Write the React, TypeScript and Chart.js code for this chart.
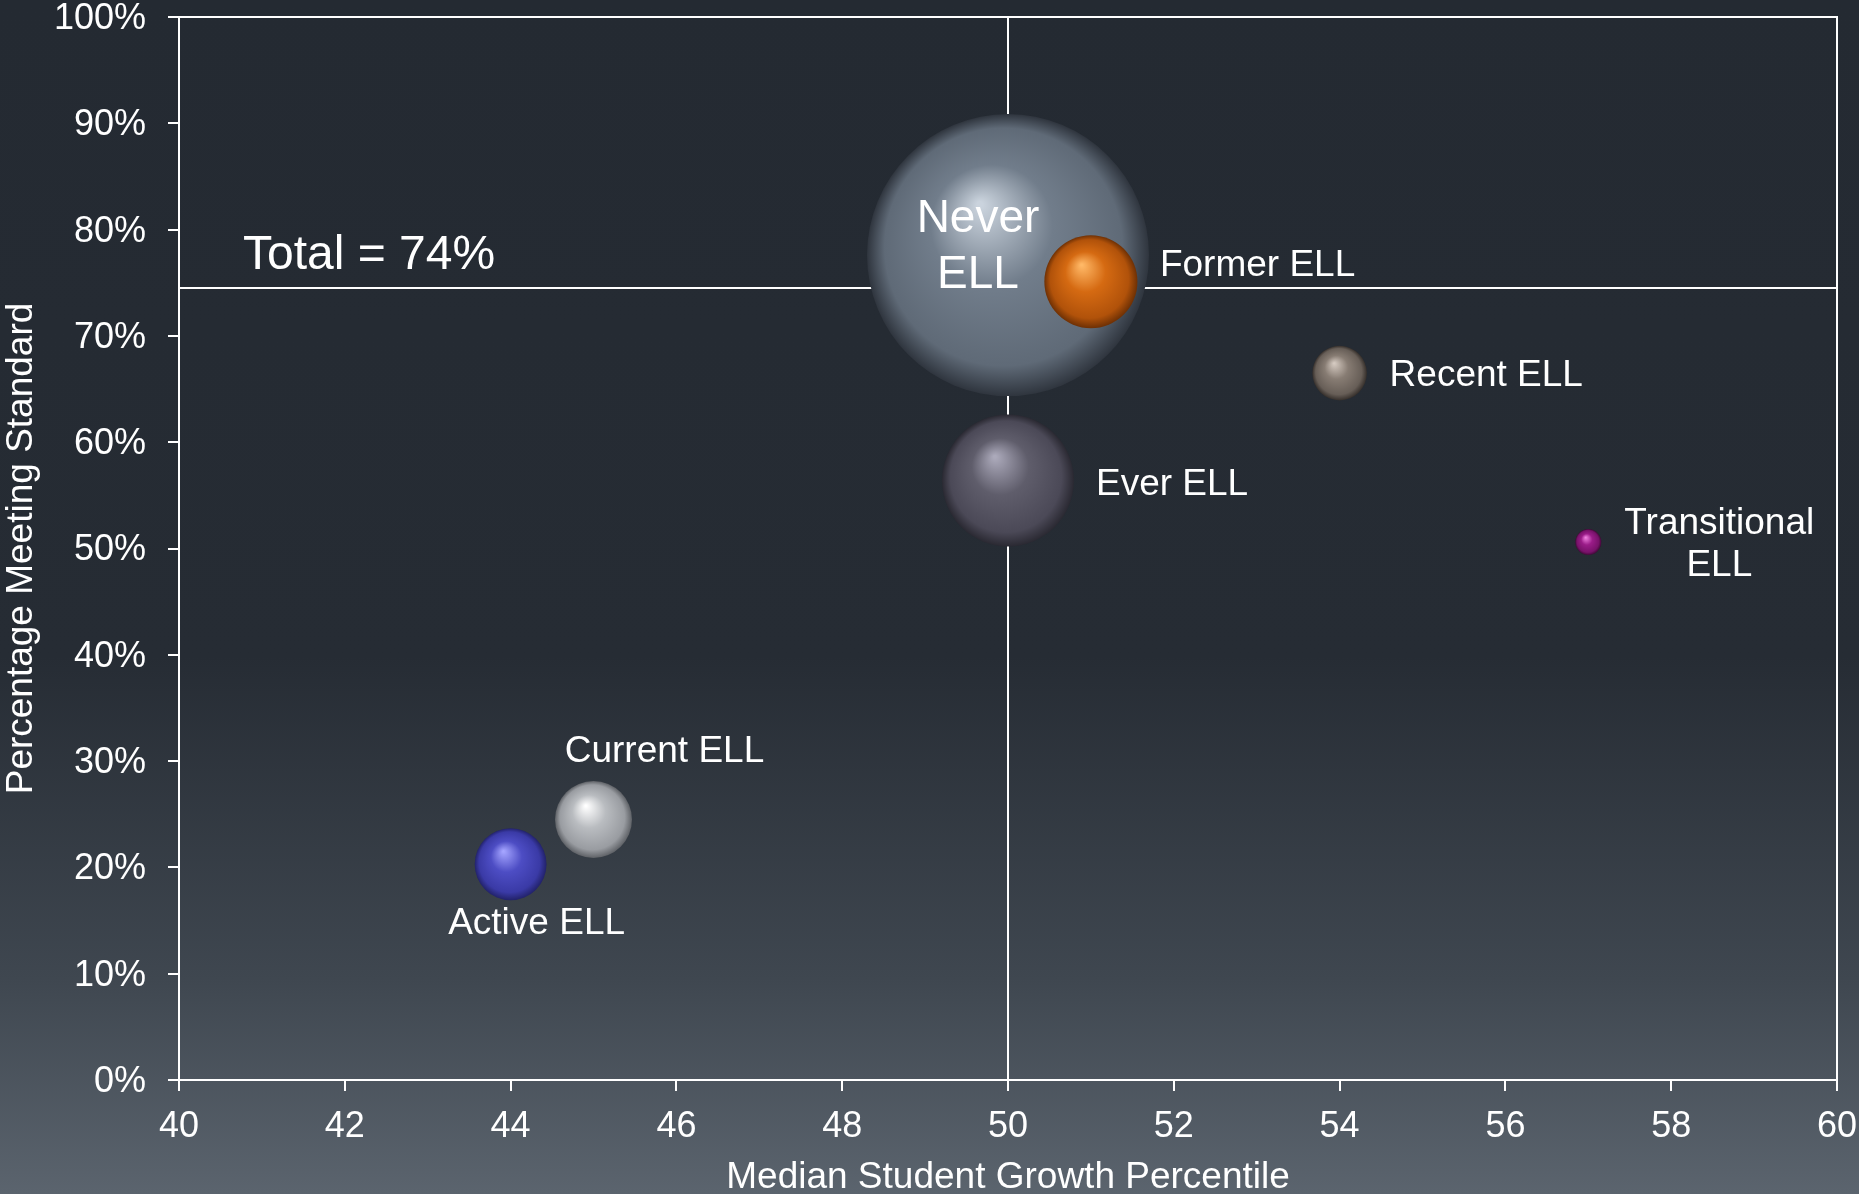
import React, { useEffect, useRef } from "react";
import { Chart, registerables } from "chart.js";

Chart.register(...registerables);

// ---- data ----
const groups = [
  "Never ELL",
  "Former ELL",
  "Ever ELL",
  "Recent ELL",
  "Transitional ELL",
  "Current ELL",
  "Active ELL",
];
const growthPercentile = [50, 51, 50, 54, 57, 45, 44];
const pctMeetingStandard = [77.6, 75.1, 56.4, 66.5, 50.6, 24.5, 20.3];
const bubbleSize = [100, 10.9, 21.9, 3.75, 0.85, 7.45, 6.5];
const totalPct = 74.5;
const totalLabel = "Total = 74%";
const medianGrowth = 50;
const xTickStep = 2;
const yTickStep = 10;
const xAxisTitle = "Median Student Growth Percentile";
const yAxisTitle = "Percentage Meeting Standard";

// ---- styles ----
const FONT = '"Liberation Sans", Arial, Helvetica, sans-serif';
const MAX_R = 141;
const WHITE = "#ffffff";

const sphereColors = [
  { hi: "#cad3dd", base: "#717d8b", mid: "#5f6a77", dark: "#2f353e" },
  { hi: "#ffb866", base: "#d56a12", mid: "#b1520a", dark: "#6e3004" },
  { hi: "#aba9ba", base: "#5f5d6b", mid: "#4b4957", dark: "#2a2932" },
  { hi: "#d4c9c0", base: "#877c73", mid: "#675e57", dark: "#352f2b" },
  { hi: "#f080e0", base: "#9a1c88", mid: "#78126a", dark: "#420838" },
  { hi: "#ffffff", base: "#b9bcc0", mid: "#999ca1", dark: "#5e6166" },
  { hi: "#a4a4ff", base: "#4d4dc4", mid: "#3a3aa6", dark: "#22226a" },
];

// label placement relative to bubble centre (px)
const labelLayout = [
  { dx: -30, dy: -8, align: "center", size: 46, wrap: true, lh: 56 },
  { dx: 69, dy: -16, align: "left", size: 37, wrap: false, lh: 0 },
  { dx: 88, dy: 4, align: "left", size: 37, wrap: false, lh: 0 },
  { dx: 50, dy: 3, align: "left", size: 37, wrap: false, lh: 0 },
  { dx: 131, dy: 3, align: "center", size: 37, wrap: true, lh: 42 },
  { dx: 71, dy: -68, align: "center", size: 37, wrap: false, lh: 0 },
  { dx: 26, dy: 60, align: "center", size: 37, wrap: false, lh: 0 },
];

export default function App() {
  const ref = useRef<HTMLCanvasElement>(null);

  useEffect(() => {
    const canvas = ref.current;
    if (!canvas) return;
    const maxSize = Math.max(...bubbleSize);
    const bubbleData = groups.map((g, i) => ({
      x: growthPercentile[i],
      y: pctMeetingStandard[i],
      r: MAX_R * Math.sqrt(bubbleSize[i] / maxSize),
    }));

    const sphereFill = (ctx: any) => {
      const i = ctx.dataIndex;
      if (ctx.type !== "data" || i === undefined) return "#888";
      const c = sphereColors[i];
      const chart = ctx.chart;
      const xs = chart.scales.x;
      const ys = chart.scales.y;
      const p = ctx.raw;
      if (!xs || !ys || !chart.chartArea) return c.base;
      const cx = xs.getPixelForValue(p.x);
      const cy = ys.getPixelForValue(p.y);
      const r = p.r;
      const g = chart.ctx.createRadialGradient(
        cx - r * 0.2,
        cy - r * 0.36,
        r * 0.02,
        cx,
        cy,
        r
      );
      g.addColorStop(0, c.hi);
      g.addColorStop(0.42, c.base);
      g.addColorStop(0.84, c.mid);
      g.addColorStop(1, c.dark);
      return g;
    };

    const framePlugin = {
      id: "frame",
      beforeDatasetsDraw(chart: any) {
        const { ctx, chartArea } = chart;
        ctx.save();
        ctx.strokeStyle = WHITE;
        ctx.lineWidth = 2;
        ctx.strokeRect(
          chartArea.left,
          chartArea.top,
          chartArea.right - chartArea.left,
          chartArea.bottom - chartArea.top
        );
        ctx.restore();
      },
    };

    const labelPlugin = {
      id: "bubbleLabels",
      afterDatasetsDraw(chart: any) {
        const { ctx } = chart;
        const xs = chart.scales.x;
        const ys = chart.scales.y;
        ctx.save();
        ctx.fillStyle = WHITE;
        ctx.textBaseline = "middle";
        groups.forEach((name, i) => {
          const L = labelLayout[i];
          const cx = xs.getPixelForValue(growthPercentile[i]) + L.dx;
          const cy = ys.getPixelForValue(pctMeetingStandard[i]) + L.dy;
          ctx.font = `${L.size}px ${FONT}`;
          ctx.textAlign = L.align;
          if (L.wrap) {
            const idx = name.lastIndexOf(" ");
            const lines = [name.slice(0, idx), name.slice(idx + 1)];
            ctx.fillText(lines[0], cx, cy - L.lh / 2);
            ctx.fillText(lines[1], cx, cy + L.lh / 2);
          } else {
            ctx.fillText(name, cx, cy);
          }
        });
        // total label
        ctx.font = `48px ${FONT}`;
        ctx.textAlign = "left";
        ctx.fillText(
          totalLabel,
          xs.getPixelForValue(xs.min) + 64,
          ys.getPixelForValue(totalPct) - 32
        );
        ctx.restore();
      },
    };

    const chart = new Chart(canvas, {
      type: "bubble",
      data: {
        datasets: [
          {
            type: "bubble",
            label: "groups",
            data: bubbleData,
            backgroundColor: sphereFill,
            borderWidth: 0,
            hoverBorderWidth: 0,
            hoverRadius: 0,
            order: 0,
            clip: false,
          } as any,
          {
            type: "line",
            label: "total",
            data: [
              { x: 40, y: totalPct },
              { x: 60, y: totalPct },
            ],
            borderColor: WHITE,
            borderWidth: 2,
            pointRadius: 0,
            fill: false,
            order: 1,
          } as any,
          {
            type: "line",
            label: "median",
            data: [
              { x: medianGrowth, y: 0 },
              { x: medianGrowth, y: 100 },
            ],
            borderColor: WHITE,
            borderWidth: 2,
            pointRadius: 0,
            fill: false,
            order: 1,
          } as any,
        ],
      },
      options: {
        responsive: false,
        animation: false,
        devicePixelRatio: 1,
        events: [],
        layout: {
          autoPadding: false,
          padding: { top: 17, right: 22, left: 0, bottom: 0 },
        },
        plugins: {
          legend: { display: false },
          tooltip: { enabled: false },
        },
        scales: {
          x: {
            type: "linear",
            min: 40,
            max: 60,
            afterFit(scale: any) {
              scale.height = 114;
              scale.paddingLeft = 0;
              scale.paddingRight = 0;
            },
            ticks: {
              stepSize: xTickStep,
              color: WHITE,
              font: { family: FONT, size: 36 },
              padding: 14,
              maxRotation: 0,
            },
            grid: {
              drawOnChartArea: false,
              color: WHITE,
              lineWidth: 2,
              tickLength: 11,
            },
            border: { display: true, color: WHITE, width: 2 },
            title: {
              display: true,
              text: xAxisTitle,
              color: WHITE,
              font: { family: FONT, size: 37 },
              padding: { top: 0, bottom: -6 },
            },
          },
          y: {
            type: "linear",
            min: 0,
            max: 100,
            afterFit(scale: any) {
              scale.width = 179;
              scale.paddingTop = 0;
              scale.paddingBottom = 0;
            },
            ticks: {
              stepSize: yTickStep,
              color: WHITE,
              font: { family: FONT, size: 36 },
              padding: 22,
              labelOffset: 2,
              callback: (v: any) => `${v}%`,
            },
            grid: {
              drawOnChartArea: false,
              color: WHITE,
              lineWidth: 2,
              tickLength: 11,
            },
            border: { display: true, color: WHITE, width: 2 },
            title: {
              display: true,
              text: yAxisTitle,
              color: WHITE,
              font: { family: FONT, size: 37 },
              padding: 0,
            },
          },
        },
      } as any,
      plugins: [framePlugin, labelPlugin],
    });

    return () => chart.destroy();
  }, []);

  return (
    <div
      style={{
        position: "fixed",
        left: 0,
        top: 0,
        width: 1859,
        height: 1194,
        background:
          "linear-gradient(to bottom, #242a32 0%, #262c34 55%, #3f4750 82%, #5b646e 100%)",
      }}
    >
      <canvas ref={ref} width={1859} height={1194} style={{ display: "block" }} />
    </div>
  );
}
